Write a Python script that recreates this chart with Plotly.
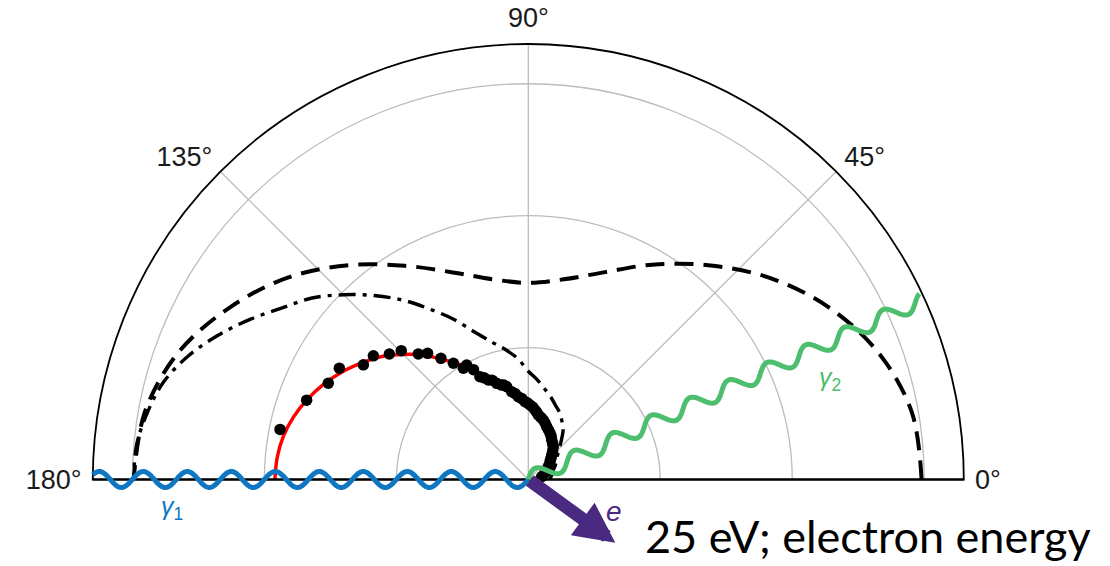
import numpy as np
import plotly.graph_objects as go

# ---------------- data ----------------
ANGLE_TICKS = [0, 45, 90, 135, 180]
ANGLE_TICK_TEXT = ["0°", "45°", "90°", "135°", "180°"]
RADIAL_GRID = [1, 2, 3]
R_MAX = 3.3

dashed_theta = [0, 10, 20, 30, 40, 50, 60, 70, 80, 90, 100, 110, 120, 130, 140, 150, 160, 170, 180]
dashed_r = [2.98, 2.95, 2.82, 2.62, 2.38, 2.12, 1.88, 1.67, 1.54, 1.49, 1.54, 1.67, 1.87, 2.12, 2.38, 2.61,
            2.82, 2.95, 2.99]

dashdot_theta = [0, 5, 10, 15, 20, 25, 30, 35, 40, 45, 50, 55, 60, 65, 70, 75, 80, 85, 90, 95, 100, 105, 110,
                 115, 120, 125, 130, 135, 140, 145, 150, 155, 160, 165, 170, 175, 180]
dashdot_r = [0.17, 0.17, 0.18, 0.19, 0.20, 0.22, 0.24, 0.26, 0.29, 0.33, 0.39, 0.46, 0.51, 0.56, 0.60, 0.65,
             0.70, 0.76, 0.82, 0.92, 1.00, 1.08, 1.19, 1.34, 1.49, 1.66, 1.82, 1.98, 2.14, 2.27, 2.43, 2.59,
             2.74, 2.86, 2.93, 2.98, 2.99]

red_theta = [0, 5, 10, 15, 20, 25, 30, 35, 40, 45, 50, 55, 60, 65, 70, 75, 80, 85, 90, 95, 100, 105, 110,
             115, 120, 125, 130, 135, 140, 145, 150, 155, 160, 165, 170, 175, 180]
red_r = [0.02, 0.04, 0.06, 0.08, 0.10, 0.12, 0.14, 0.165, 0.195, 0.225, 0.26, 0.295, 0.33, 0.365, 0.40, 0.435,
         0.47, 0.51, 0.55, 0.60, 0.655, 0.72, 0.785, 0.89, 1.00, 1.105, 1.23, 1.34, 1.45, 1.54, 1.63, 1.71,
         1.78, 1.84, 1.885, 1.91, 1.92]

dots_theta = [168.6, 160.3, 154.3, 149.5, 145.2, 141.4, 137.9, 134.6, 131.2, 128.6, 125.8, 122.8, 120.3,
              118.3, 116.5, 115.2, 113.5, 111.9, 110.0, 108.2, 106.0, 104.5, 103.1, 100.7, 98.8, 96.9, 94.6,
              92.4, 90.5, 88.7, 86.5, 84.5, 83.0, 81.2, 78.5, 75.9, 73.3, 70.8, 67.8, 64.8, 62.0, 59.4, 56.0,
              52.7, 49.5, 46.3, 43.0, 39.4, 33.5, 27.3, 19.5, 11.8]
dots_r = [1.919, 1.784, 1.682, 1.662, 1.522, 1.502, 1.419, 1.371, 1.265, 1.223, 1.132, 1.048, 0.976,
          0.985, 0.93, 0.861, 0.84, 0.813, 0.80, 0.767, 0.745, 0.74, 0.722, 0.677, 0.66, 0.632, 0.615,
          0.590, 0.58, 0.565, 0.55, 0.529, 0.515, 0.495, 0.48, 0.465, 0.445, 0.424, 0.405, 0.387, 0.37,
          0.348, 0.33, 0.312, 0.285, 0.257, 0.235, 0.213, 0.185, 0.157, 0.13, 0.104]

# photon / electron glyphs (direction in degrees, length in radial units)
GAMMA1_ANGLE, GAMMA1_LENGTH = 180.0, 3.3
GAMMA2_ANGLE, GAMMA2_LENGTH = 24.5, 3.28
ELECTRON_ANGLE, ELECTRON_LENGTH = -36.0, 0.815
ENERGY_TEXT = "25 eV; electron energy"

# ---------------- layout geometry ----------------
W, H = 1110, 566
CX, CY = 528.3, 479.5        # pole position (px from left / top)
R_PX = 435.5
PPU = R_PX / R_MAX           # px per radial unit

BLUE = "#0f77c2"
GREEN = "#4dbd6e"
PURPLE = "#4a2a80"
GRID = "rgb(188,188,188)"
TICK_FONT = "Liberation Sans, Arial, Helvetica"


def wave_path(angle_deg, length, wavelength, amp, n=700):
    a = np.deg2rad(angle_deg)
    s = np.linspace(0, length, n)
    off = amp * np.sin(2 * np.pi * s / wavelength)
    ux, uy = np.cos(a), np.sin(a)
    nx, ny = -np.sin(a), np.cos(a)
    x = s * ux + off * nx
    y = s * uy + off * ny
    return "M " + " L ".join(f"{xi:.5f},{yi:.5f}" for xi, yi in zip(x, y))


def px_xy(px, py):
    """pixel position -> data units around the pole"""
    return (px - CX) / PPU, (CY - py) / PPU


fig = go.Figure()

# invisible cartesian helper (same units as the radial axis)
x_rng = [-CX / PPU, (W - CX) / PPU]
y_rng = [-(H - CY) / PPU, CY / PPU]
fig.add_trace(go.Scatter(x=x_rng, y=y_rng, mode="markers", marker=dict(opacity=0),
                         hoverinfo="skip", showlegend=False))

fig.add_trace(go.Scatterpolar(r=dashed_r, theta=dashed_theta, mode="lines",
                              line=dict(color="black", width=4, dash="19px,10px", shape="spline"),
                              showlegend=False))
fig.add_trace(go.Scatterpolar(r=dashdot_r, theta=dashdot_theta, mode="lines",
                              line=dict(color="black", width=3.4, dash="17px,7px,4px,7px", shape="spline"),
                              showlegend=False))
fig.add_trace(go.Scatterpolar(r=red_r, theta=red_theta, mode="lines",
                              line=dict(color="#ff0000", width=3.5, shape="spline"), showlegend=False))
fig.add_trace(go.Scatterpolar(r=dots_r, theta=dots_theta, mode="markers",
                              marker=dict(color="black", size=11.5), showlegend=False))

shapes = [
    dict(type="line", xref="x", yref="y", x0=-R_MAX, x1=R_MAX, y0=0, y1=0,
         line=dict(color="black", width=1.8), layer="above"),
    dict(type="path", xref="x", yref="y", layer="above",
         path=wave_path(GAMMA1_ANGLE, GAMMA1_LENGTH, 44 / PPU, 8 / PPU),
         line=dict(color=BLUE, width=5)),
    dict(type="path", xref="x", yref="y", layer="above",
         path=wave_path(GAMMA2_ANGLE, GAMMA2_LENGTH, 42.5 / PPU, 7.5 / PPU),
         line=dict(color=GREEN, width=5)),
]

ea = np.deg2rad(ELECTRON_ANGLE)
g1x, g1y = px_xy(172, 508)
g2x, g2y = px_xy(830, 379)
ex, ey = px_xy(614, 511)
annotations = [
    dict(x=ELECTRON_LENGTH * np.cos(ea), y=ELECTRON_LENGTH * np.sin(ea), xref="x", yref="y",
         ax=0, ay=0, axref="x", ayref="y", text="", showarrow=True,
         arrowhead=2, arrowwidth=13, arrowsize=0.62, arrowcolor=PURPLE),
    dict(x=g1x, y=g1y, xref="x", yref="y", showarrow=False,
         text="<i>γ</i><sub>1</sub>", font=dict(family=TICK_FONT, size=25, color=BLUE)),
    dict(x=g2x, y=g2y, xref="x", yref="y", showarrow=False,
         text="<i>γ</i><sub>2</sub>", font=dict(family=TICK_FONT, size=25, color=GREEN)),
    dict(x=ex, y=ey, xref="x", yref="y", showarrow=False,
         text="<i>e</i>", font=dict(family=TICK_FONT, size=28, color=PURPLE)),
    dict(x=643 / W, y=(H - 536) / H, xref="paper", yref="paper",
         xanchor="left", yanchor="middle", showarrow=False, text=ENERGY_TEXT,
         font=dict(family="Lato", size=45, color="black")),
]

fig.update_layout(
    width=W, height=H,
    margin=dict(l=0, r=0, t=0, b=0),
    paper_bgcolor="white", plot_bgcolor="white",
    xaxis=dict(range=x_rng, domain=[0, 1], visible=False, fixedrange=True),
    yaxis=dict(range=y_rng, domain=[0, 1], visible=False, fixedrange=True),
    polar=dict(
        domain=dict(x=[(CX - R_PX) / W, (CX + R_PX) / W], y=[(H - CY) / H, (H - CY + R_PX) / H]),
        sector=[0, 180],
        bgcolor="rgba(0,0,0,0)",
        angularaxis=dict(tickmode="array", tickvals=ANGLE_TICKS, ticktext=ANGLE_TICK_TEXT,
                         direction="counterclockwise", rotation=0,
                         ticks="outside", ticklen=5, tickcolor="rgba(0,0,0,0)",
                         showline=True, linecolor="black", linewidth=1.8,
                         showgrid=True, gridcolor=GRID, gridwidth=1.3,
                         tickfont=dict(family=TICK_FONT, size=27, color="#1a1a1a")),
        radialaxis=dict(range=[0, R_MAX], tickmode="array", tickvals=RADIAL_GRID,
                        showticklabels=False, ticks="", showline=False,
                        showgrid=True, gridcolor=GRID, gridwidth=1.3),
    ),
    shapes=shapes,
    annotations=annotations,
    showlegend=False,
)

fig.write_html("out.html", config={"displayModeBar": False, "staticPlot": True},
               post_script="document.body.style.margin='0px';")
